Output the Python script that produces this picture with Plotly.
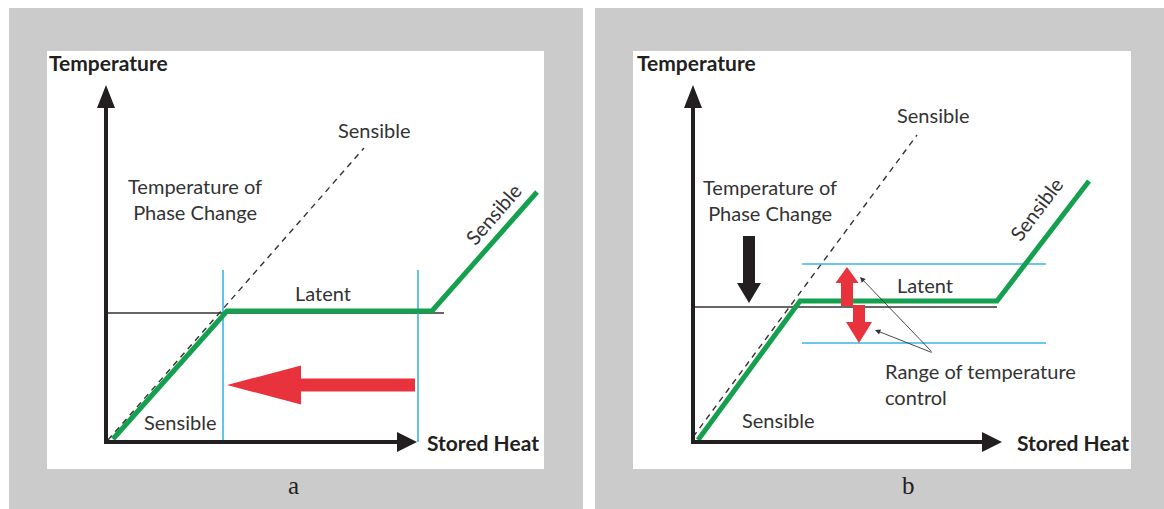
import math
import plotly.graph_objects as go

W, H = 1164, 509

# ---------------- Panel a data (stored heat, temperature; origin at axes corner) -------------
a_green_x = [7, 121, 326, 431]
a_green_y = [3, 131, 131, 250]
a_dash_x = [2, 258]
a_dash_y = [2, 294]
a_phase_x = [0, 338]
a_phase_y = [129, 129]
a_blue_x = [117, 312]
a_blue_y = [0, 172]
a_red_x = [309, 121]
a_red_y = [57, 57]
a_axis_x_end = 311
a_axis_y_end = 357

# ---------------- Panel b data ----------------
b_green_x = [5, 107, 304, 396]
b_green_y = [2, 141, 141, 261]
b_dash_x = [0, 224]
b_dash_y = [5, 307]
b_phase_x = [0, 304]
b_phase_y = [135, 135]
b_band_x = [109, 353]
b_band_y = [178, 99]
b_up_x = [154, 154]
b_up_y = [136, 175]
b_down_x = [166, 166]
b_down_y = [137, 99]
b_black_x = [56, 56]
b_black_y = [206, 139]
b_pointer_from = [240, 89]
b_pointer_to_x = [167, 182]
b_pointer_to_y = [165, 112]
b_axis_x_end = 309
b_axis_y_end = 357

# ---------------- styles ----------------
INK = "#231f20"
TXT = "#333333"
GREEN = "#14a04e"
BLUE = "#3ab4e6"
RED = "#e8323c"
GRAY = "#cbcbcb"
FONT = "Lato"

fig = go.Figure()


def arrow_poly(x0, y0, x1, y1, shaft, head_w, head_len):
    dx, dy = x1 - x0, y1 - y0
    L = math.hypot(dx, dy)
    ux, uy = dx / L, dy / L
    px, py = -uy, ux
    bx, by = x1 - ux * head_len, y1 - uy * head_len
    pts = [
        (x0 + px * shaft / 2, y0 + py * shaft / 2),
        (bx + px * shaft / 2, by + py * shaft / 2),
        (bx + px * head_w / 2, by + py * head_w / 2),
        (x1, y1),
        (bx - px * head_w / 2, by - py * head_w / 2),
        (bx - px * shaft / 2, by - py * shaft / 2),
        (x0 - px * shaft / 2, y0 - py * shaft / 2),
        (x0 + px * shaft / 2, y0 + py * shaft / 2),
    ]
    return [p[0] for p in pts], [p[1] for p in pts]


def add_arrow(x0, y0, x1, y1, shaft, head_w, head_len, color, xa, ya):
    xs, ys = arrow_poly(x0, y0, x1, y1, shaft, head_w, head_len)
    fig.add_trace(go.Scatter(x=xs, y=ys, mode="lines", fill="toself", fillcolor=color,
                             line=dict(width=0, color=color), hoverinfo="skip",
                             showlegend=False, xaxis=xa, yaxis=ya))


def add_line(xs, ys, color, width, xa, ya, dash=None):
    fig.add_trace(go.Scatter(x=xs, y=ys, mode="lines",
                             line=dict(color=color, width=width, dash=dash),
                             hoverinfo="skip", showlegend=False, xaxis=xa, yaxis=ya))


# ---------- panel a ----------
xa, ya = "x", "y"
add_line(a_phase_x, a_phase_y, TXT, 1.5, xa, ya)
add_line(a_dash_x, a_dash_y, TXT, 1.4, xa, ya, dash="6px,5px")
for bx in a_blue_x:
    add_line([bx, bx], a_blue_y, BLUE, 1.6, xa, ya)
add_line(a_green_x, a_green_y, GREEN, 5, xa, ya)
add_arrow(a_red_x[0], a_red_y[0], a_red_x[1], a_red_y[1], 13, 39, 74, RED, xa, ya)
add_arrow(0, -2, 0, a_axis_y_end, 4, 18, 23, INK, xa, ya)
add_arrow(-2, 0, a_axis_x_end, 0, 4, 20, 20, INK, xa, ya)

# ---------- panel b ----------
xa, ya = "x2", "y2"
add_line(b_phase_x, b_phase_y, TXT, 1.5, xa, ya)
add_line(b_dash_x, b_dash_y, TXT, 1.4, xa, ya, dash="6px,5px")
for by in b_band_y:
    add_line(b_band_x, [by, by], BLUE, 1.6, xa, ya)
add_line(b_green_x, b_green_y, GREEN, 5, xa, ya)
add_arrow(b_up_x[0], b_up_y[0], b_up_x[1], b_up_y[1], 12, 23, 16, RED, xa, ya)
add_arrow(b_down_x[0], b_down_y[0], b_down_x[1], b_down_y[1], 12, 26, 21, RED, xa, ya)
add_arrow(b_black_x[0], b_black_y[0], b_black_x[1], b_black_y[1], 12, 24, 20, INK, xa, ya)
add_arrow(0, -2, 0, b_axis_y_end, 4, 18, 23, INK, xa, ya)
add_arrow(-2, 0, b_axis_x_end, 0, 4, 20, 20, INK, xa, ya)

annotations = []


def txt(text, x, y, xr, yr, size=20, xanchor="center", yanchor="middle", angle=0,
        bold=False, color=TXT, family=FONT, align="center"):
    annotations.append(dict(
        text=("<b>%s</b>" % text) if bold else text, x=x, y=y, xref=xr, yref=yr,
        showarrow=False, xanchor=xanchor, yanchor=yanchor, textangle=angle, align=align,
        font=dict(family=family, size=size, color=color)))


# panel a labels
txt("Temperature", -59, 380, "x", "y", size=21, xanchor="left", bold=True, color=INK)
txt("Stored Heat", 319, 0, "x", "y", size=21, xanchor="left", bold=True, color=INK)
txt("Sensible", 268, 312, "x", "y")
txt("Temperature of<br>Phase Change", 89, 243, "x", "y")
txt("Latent", 217, 149, "x", "y")
txt("Sensible", 74, 20, "x", "y")
txt("Sensible", 387, 228, "x", "y", angle=-49)

# panel b labels
txt("Temperature", -58, 380, "x2", "y2", size=21, xanchor="left", bold=True, color=INK)
txt("Stored Heat", 322, 0, "x2", "y2", size=21, xanchor="left", bold=True, color=INK)
txt("Sensible", 240, 327, "x2", "y2")
txt("Temperature of<br>Phase Change", 77, 242, "x2", "y2")
txt("Latent", 232, 157, "x2", "y2")
txt("Sensible", 85, 22, "x2", "y2")
txt("Sensible", 343, 233, "x2", "y2", angle=-53)
txt("Range of temperature<br>control", 190, 58, "x2", "y2", xanchor="left", align="left")

for tx, ty in zip(b_pointer_to_x, b_pointer_to_y):
    annotations.append(dict(
        x=tx, y=ty, xref="x2", yref="y2", ax=b_pointer_from[0], ay=b_pointer_from[1],
        axref="x2", ayref="y2", text="", showarrow=True, arrowhead=2, arrowsize=1.2,
        arrowwidth=0.9, arrowcolor=TXT, standoff=0, startstandoff=0))

# panel captions
for cap, cx in (("a", 293), ("b", 908)):
    annotations.append(dict(text=cap, x=cx / W, y=1 - 485 / H, xref="paper", yref="paper",
                            xanchor="center", yanchor="middle", showarrow=False,
                            font=dict(family="Liberation Serif", size=25, color=INK)))

shapes = [
    dict(type="rect", xref="paper", yref="paper", x0=9 / W, x1=583 / W, y0=0, y1=1 - 8 / H,
         fillcolor=GRAY, line=dict(width=0), layer="below"),
    dict(type="rect", xref="paper", yref="paper", x0=595 / W, x1=1, y0=0, y1=1 - 8 / H,
         fillcolor=GRAY, line=dict(width=0), layer="below"),
    dict(type="rect", xref="paper", yref="paper", x0=47 / W, x1=544 / W, y0=1 - 469 / H,
         y1=1 - 51 / H, fillcolor="white", line=dict(width=0), layer="below"),
    dict(type="rect", xref="paper", yref="paper", x0=633 / W, x1=1131 / W, y0=1 - 469 / H,
         y1=1 - 51 / H, fillcolor="white", line=dict(width=0), layer="below"),
]

ax_common = dict(visible=False, fixedrange=True, showgrid=False, zeroline=False)
fig.update_layout(
    width=W, height=H, margin=dict(l=0, r=0, t=0, b=0),
    paper_bgcolor="white", plot_bgcolor="rgba(0,0,0,0)",
    showlegend=False,
    xaxis=dict(domain=[47 / W, 544 / W], range=[-59, 438], anchor="y", **ax_common),
    yaxis=dict(domain=[1 - 469 / H, 1 - 51 / H], range=[-27, 391], anchor="x", **ax_common),
    xaxis2=dict(domain=[633 / W, 1131 / W], range=[-60, 438], anchor="y2", **ax_common),
    yaxis2=dict(domain=[1 - 469 / H, 1 - 51 / H], range=[-27, 391], anchor="x2", **ax_common),
    annotations=annotations, shapes=shapes,
)

fig.write_html(
    "out.html",
    config={"displayModeBar": False},
    post_script="document.body.style.margin='0';document.body.style.overflow='hidden';",
)
